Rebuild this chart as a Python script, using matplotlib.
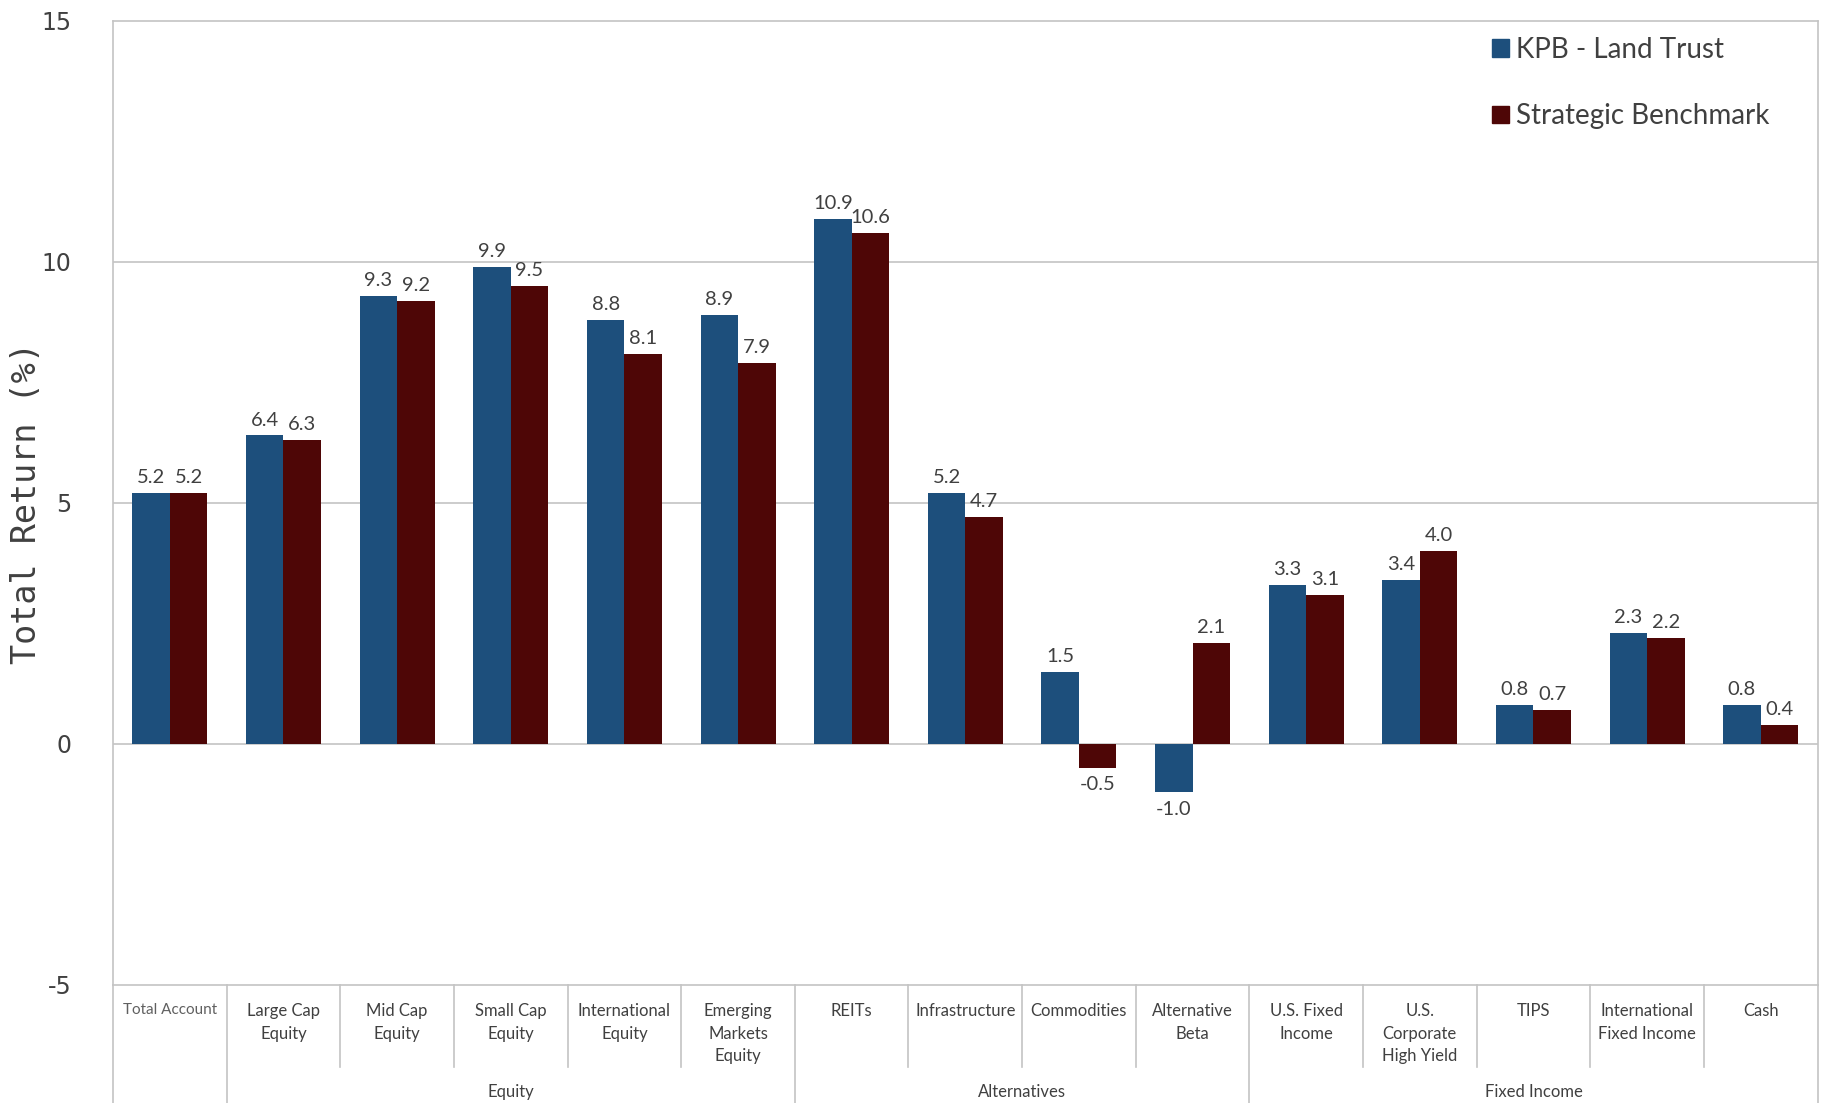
import matplotlib.pyplot as plt
import matplotlib.transforms as mtransforms
from matplotlib.patches import Patch
import numpy as np

# Données
categories = ['Total Account', 'Large Cap\nEquity', 'Mid Cap\nEquity', 'Small Cap\nEquity',
              'International\nEquity', 'Emerging\nMarkets\nEquity', 'REITs', 'Infrastructure',
              'Commodities', 'Alternative\nBeta', 'U.S. Fixed\nIncome', 'U.S.\nCorporate\nHigh Yield',
              'TIPS', 'International\nFixed Income', 'Cash']
kpb = [5.2, 6.4, 9.3, 9.9, 8.8, 8.9, 10.9, 5.2, 1.5, -1.0, 3.3, 3.4, 0.8, 2.3, 0.8]
benchmark = [5.2, 6.3, 9.2, 9.5, 8.1, 7.9, 10.6, 4.7, -0.5, 2.1, 3.1, 4.0, 0.7, 2.2, 0.4]
# groupes : (nom, premier indice, dernier indice)
groups = [('', 0, 0), ('Equity', 1, 5), ('Alternatives', 6, 9), ('Fixed Income', 10, 14)]
series_names = ['KPB - Land Trust', 'Strategic Benchmark']
yticks = [-5, 0, 5, 10, 15]

blue = '#1d4f7c'
red = '#4e0606'
txt = '#404040'
gridc = '#c4c4c4'

fig = plt.figure(figsize=(18.23, 11.03), dpi=100)
ax = fig.add_axes([0.062, 0.107, 0.935, 0.874])

x = np.arange(len(categories))
w = 0.33
ax.bar(x - w / 2, kpb, w, color=blue, zorder=3)
ax.bar(x + w / 2, benchmark, w, color=red, zorder=3)

# étiquettes de valeurs
for xs, vals in [(x - w / 2, kpb), (x + w / 2, benchmark)]:
    for xi, v in zip(xs, vals):
        if v >= 0:
            ax.annotate('%.1f' % v, (xi, v), xytext=(0, 5), textcoords='offset points',
                        ha='center', va='bottom', fontsize=14.5, color=txt, family='Lato')
        else:
            ax.annotate('%.1f' % v, (xi, v), xytext=(0, -6), textcoords='offset points',
                        ha='center', va='top', fontsize=14.5, color=txt, family='Lato')

ax.set_xlim(-0.5, len(categories) - 0.5)
ax.set_ylim(-5, 15)
ax.set_yticks(yticks)
ax.set_yticklabels([str(t) for t in yticks], fontsize=17, color=txt, family='DejaVu Sans')
ax.tick_params(axis='y', length=0, pad=30)
ax.set_xticks([])
for t in [0, 5, 10]:
    ax.axhline(t, color=gridc, lw=1.2, zorder=1)
for s in ax.spines.values():
    s.set_color(gridc)
    s.set_linewidth(1.2)

ax.set_ylabel('Total Return (%)', fontsize=24, color=txt, family='DejaVu Sans Mono')
ax.yaxis.set_label_coords(-0.041, 0.5)

# étiquettes des catégories et séparateurs sous l'axe
trans = mtransforms.blended_transform_factory(ax.transData, ax.transAxes)
for i, c in enumerate(categories):
    fs = 11 if i == 0 else 12
    col = '#606060' if i == 0 else txt
    ax.text(i, -0.019, c, transform=trans, ha='center', va='top', fontsize=fs,
            color=col, family='Lato', linespacing=1.5)
group_edges = [g[1] - 0.5 for g in groups] + [len(categories) - 0.5]
for k in range(len(categories) + 1):
    xe = k - 0.5
    y0 = -0.122 if xe in group_edges else -0.085
    ax.plot([xe, xe], [0, y0], transform=trans, color=gridc, lw=1.2, clip_on=False)
for name, a, b in groups:
    if name:
        ax.text((a + b) / 2, -0.111, name, transform=trans, ha='center', va='center',
                fontsize=12, color=txt, family='Lato')

handles = [Patch(color=blue), Patch(color=red)]
fig.legend(handles, series_names, loc='upper left', bbox_to_anchor=(0.811, 0.979),
           frameon=False, handlelength=0.6, handleheight=0.6,
           handletextpad=0.25, labelspacing=1.45, borderpad=0, prop={'family': 'Lato', 'size': 20},
           labelcolor=txt)

fig.savefig('out.png', dpi=100)
